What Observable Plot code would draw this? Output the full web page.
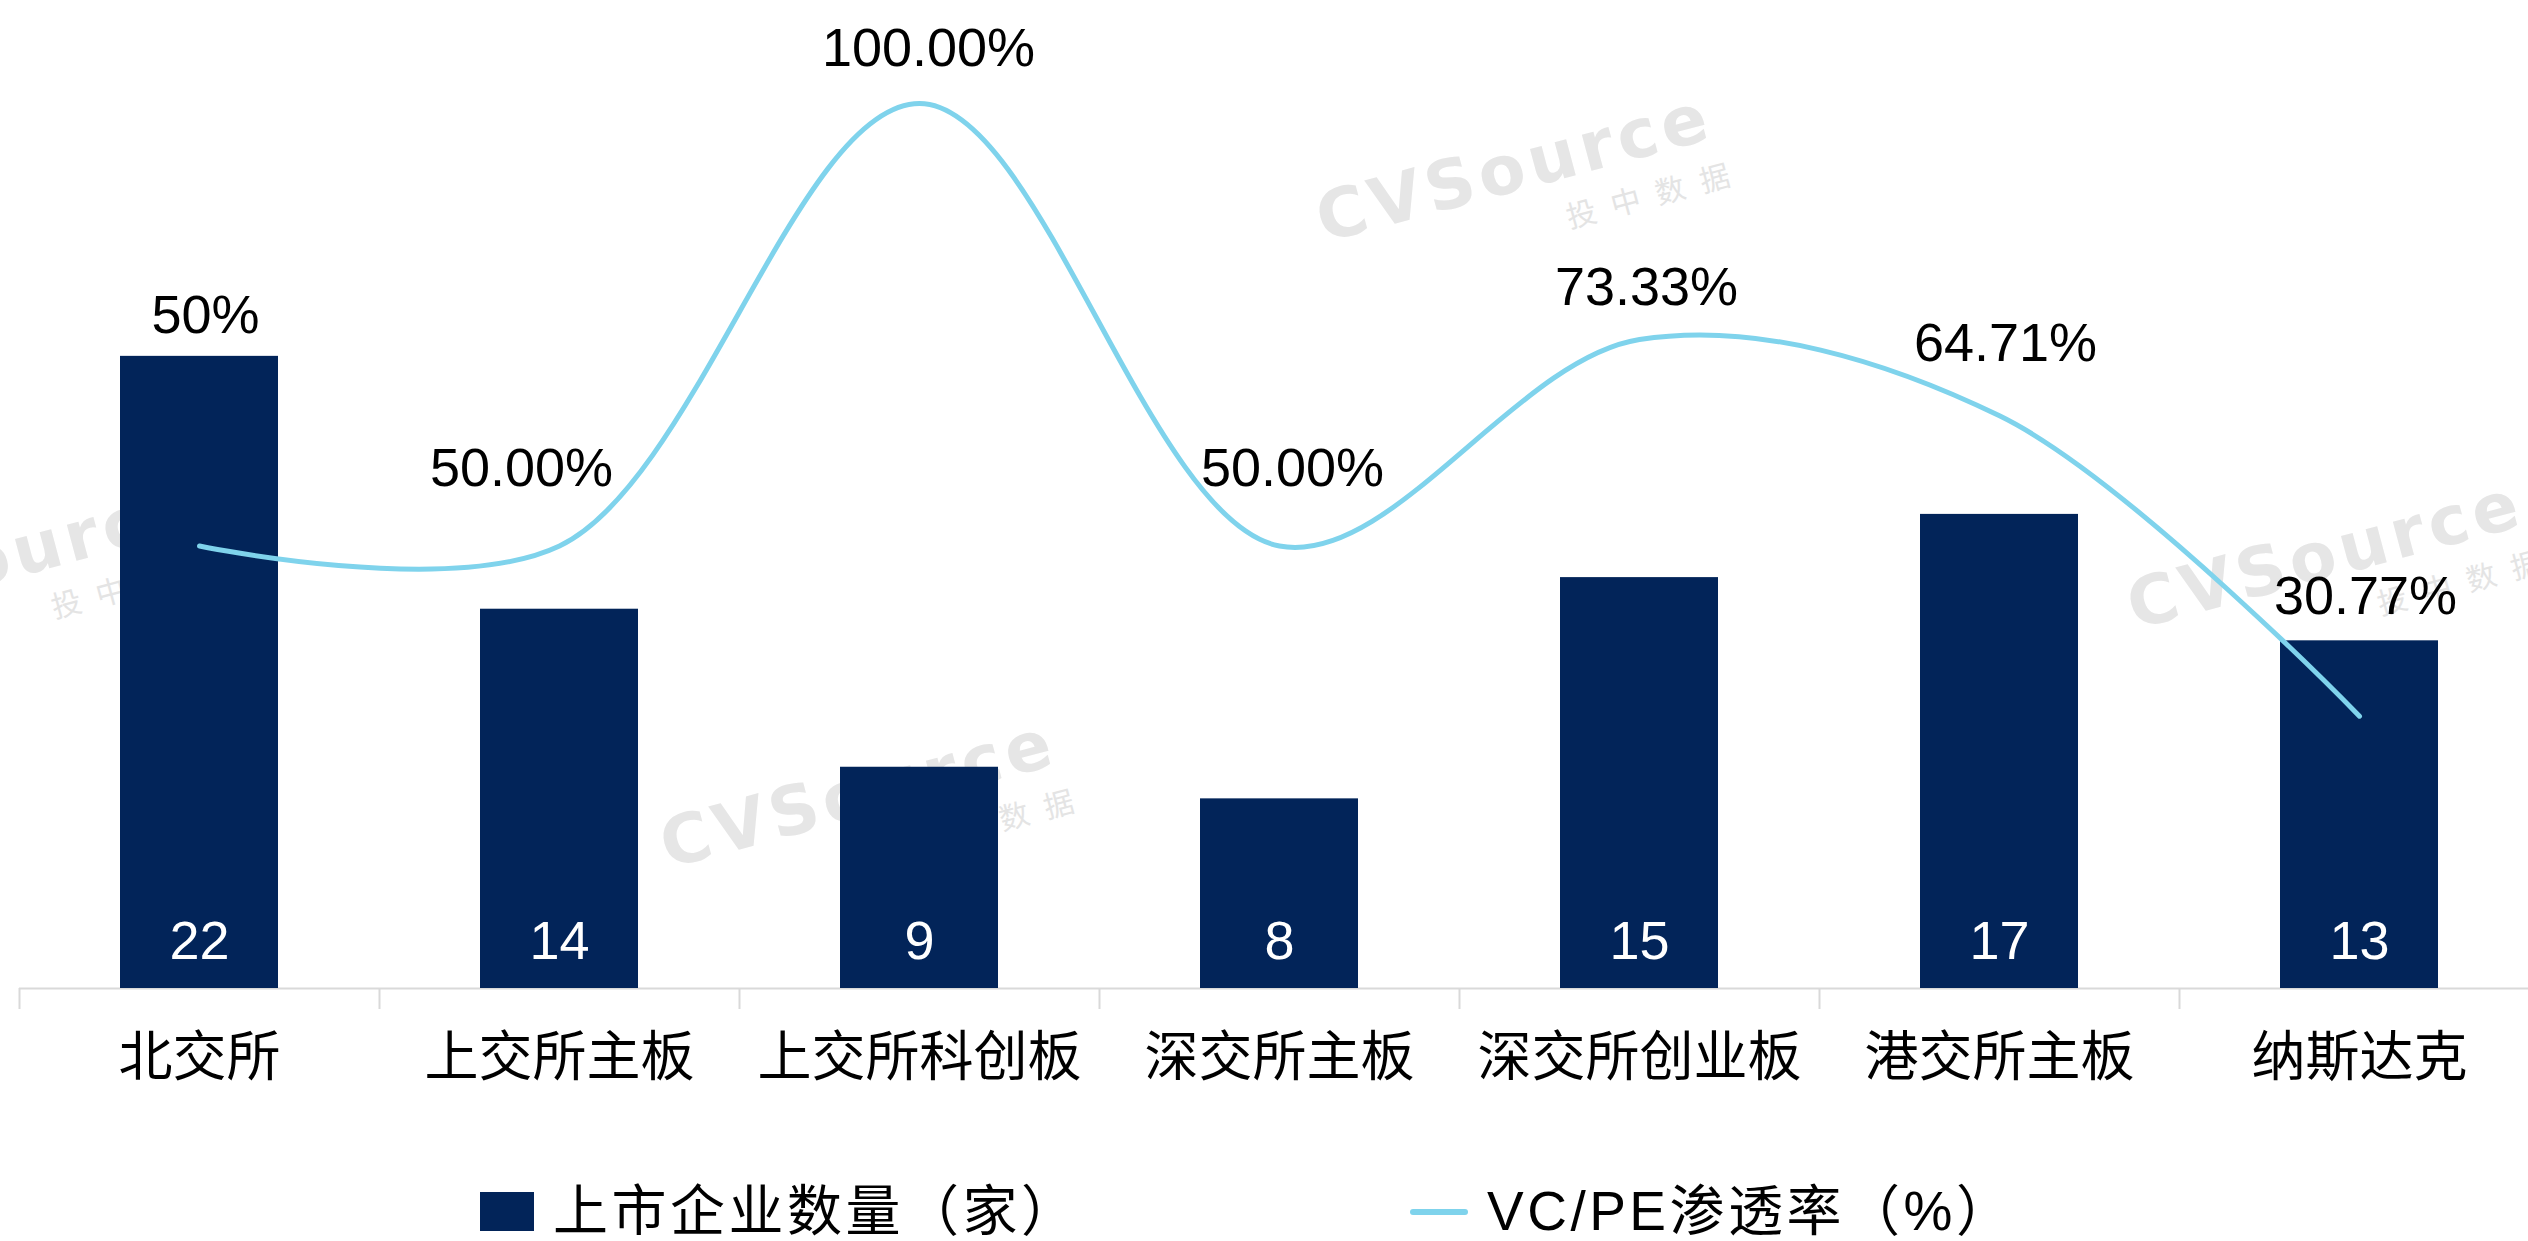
<!DOCTYPE html>
<html><head><meta charset="utf-8">
<script src="https://cdn.jsdelivr.net/npm/d3@7"></script>
<script src="https://cdn.jsdelivr.net/npm/@observablehq/plot@0.6"></script>
<style>
html,body{margin:0;padding:0;background:#fff;}
#wrap{position:relative;width:2528px;height:1241px;overflow:hidden;font-family:'Liberation Sans','Noto Sans CJK SC',sans-serif;}
#wm{position:absolute;left:0;top:0;}
#chart{position:absolute;left:0;top:0;}
#legend{position:absolute;left:0;top:1110px;width:2528px;height:131px;}
.lg-text{position:absolute;font-size:55px;line-height:60px;letter-spacing:3.5px;color:#000;white-space:nowrap;}
</style></head>
<body>
<div id="wrap">
  <svg id="wm" width="2528" height="1241"></svg>
  <div id="chart"></div>
  <div id="legend"></div>
</div>
<script>
// ---------- DATA ----------
const categories = ["北交所","上交所主板","上交所科创板","深交所主板","深交所创业板","港交所主板","纳斯达克"];
const companyCounts = [22, 14, 9, 8, 15, 17, 13];
const vcpeRates = [50, 50, 100, 50, 73.33, 64.71, 30.77];
const rateLabels = ["50%","50.00%","100.00%","50.00%","73.33%","64.71%","30.77%"];
const seriesNames = ["上市企业数量（家）","VC/PE渗透率（%）"];
const watermarkMain = "CVSource";
const watermarkSub = "投中数据";

// ---------- LAYOUT / STYLE ----------
const W = 2528, H = 1110;
const barColor = "#022459", lineColor = "#7fd3ec", axisColor = "#d9d9d9";
const font = "'Liberation Sans','Noto Sans CJK SC',sans-serif";
const yPrimary = [2, 30];      // left axis (counts)
const ySecondary = [0, 100];   // right axis (percent)
const rateToY = p => yPrimary[0] + (p - ySecondary[0]) * (yPrimary[1] - yPrimary[0]) / (ySecondary[1] - ySecondary[0]);
const xRange = [19, 2539];
const band = (xRange[1] - xRange[0]) / categories.length;
const labelDx = [6, -38, 9, 13, 7, 6, 6];
const labelDy = [-230, -77, -55, -77, -52, -72, -119];

const data = categories.map((c, i) => ({cat: c, count: companyCounts[i], rate: vcpeRates[i], label: rateLabels[i]}));

const chart = Plot.plot({
  width: W, height: H,
  marginTop: 103, marginBottom: H - 988, marginLeft: 19, marginRight: 0,
  style: {background: "transparent", fontFamily: font, overflow: "visible"},
  x: {type: "band", domain: categories, range: xRange, padding: 0, axis: null},
  y: {domain: yPrimary, axis: null},
  marks: [
    Plot.ruleY([yPrimary[0]], {stroke: axisColor, strokeWidth: 2}),
    Plot.ruleX(categories, {x: d => d, y1: yPrimary[0], y2: yPrimary[0], dx: -band / 2, insetBottom: -21, stroke: axisColor, strokeWidth: 2}),
    Plot.barY(data, {x: "cat", y1: yPrimary[0], y2: "count", fill: barColor, insetLeft: 101, insetRight: 101}),
    Plot.line(data, {x: "cat", y: d => rateToY(d.rate), curve: "catmull-rom", stroke: lineColor, strokeWidth: 5, strokeLinecap: "round"}),
    Plot.text(data, {x: "cat", y: yPrimary[0], text: d => String(d.count), dy: -47, fill: "white", fontSize: 54, lineAnchor: "middle"}),
    Plot.text(data, {x: "cat", y: yPrimary[0], text: "cat", dy: 70, fill: "#000", fontSize: 54, lineAnchor: "middle"}),
    ...data.map((d, i) => Plot.text([d], {x: "cat", y: r => rateToY(r.rate), text: "label", dx: labelDx[i], dy: labelDy[i], fill: "#000", fontSize: 54, lineAnchor: "middle"}))
  ]
});
document.getElementById("chart").appendChild(chart);

// ---------- LEGEND ----------
const lg = document.getElementById("legend");
lg.innerHTML = `
  <div style="position:absolute;left:480px;top:82px;width:54px;height:39px;background:${barColor}"></div>
  <div class="lg-text" style="left:553px;top:71px;">${seriesNames[0]}</div>
  <div style="position:absolute;left:1410px;top:99px;width:58px;height:6px;border-radius:3px;background:${lineColor}"></div>
  <div class="lg-text" style="left:1487px;top:71px;">${seriesNames[1]}</div>`;

// ---------- WATERMARKS ----------
const wm = d3.select("#wm");
const wmSpots = [[1520, 190], [864, 816], [5, 580], [2331, 577]];
wmSpots.forEach(([cx, cy]) => {
  const g = wm.append("g").attr("transform", `translate(${cx},${cy}) rotate(-15)`);
  g.append("text").attr("text-anchor", "middle").attr("font-family", "'DejaVu Sans',sans-serif").attr("font-weight", "bold")
    .attr("font-size", 68).attr("letter-spacing", 5).attr("fill", "#e6e6e6").text(watermarkMain);
  g.append("text").attr("x", 130).attr("y", 50).attr("text-anchor", "middle").attr("font-family", "'Noto Sans CJK SC',sans-serif")
    .attr("font-size", 30).attr("letter-spacing", 16).attr("fill", "#e4e4e4").text(watermarkSub);
});
</script>
</body></html>
